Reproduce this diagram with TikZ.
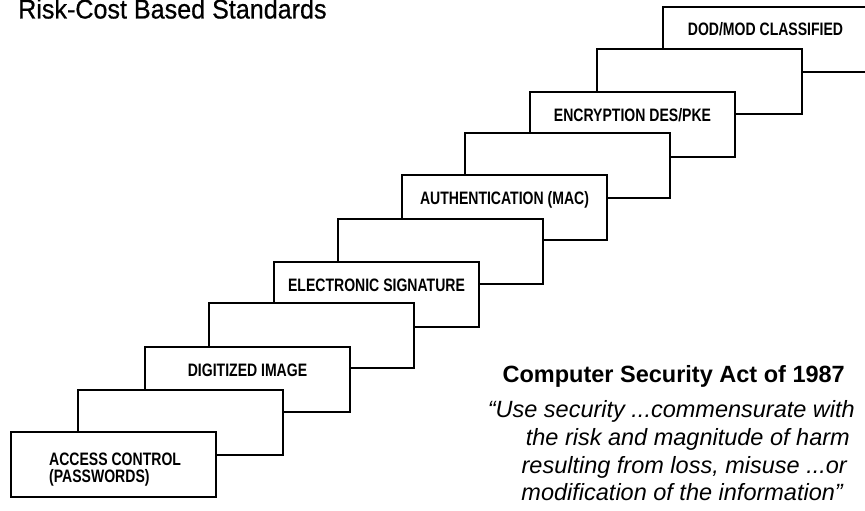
\documentclass[tikz,border=0pt]{standalone}
\usepackage{fontspec}
\setmainfont{Liberation Sans}
\newfontfamily\lblfont[FakeStretch=0.78]{Liberation Sans}
\newfontfamily\ttlfont[FakeStretch=0.93,FakeBold=0.6]{Liberation Sans}
\usetikzlibrary{calc}
\begin{document}
\begin{tikzpicture}[x=1pt,y=-1pt,
  stepbox/.style={draw=black, fill=white, line width=1.8pt, minimum width=205pt, minimum height=65pt, inner sep=0pt, outer sep=0pt, anchor=north west},
  lbl/.style={font=\lblfont\bfseries\fontsize{18}{20}\selectfont, inner sep=0pt, anchor=base},
  quoteline/.style={font=\itshape\fontsize{23.5}{26}\selectfont, inner sep=0pt, anchor=base east}]
\useasboundingbox (0,0) rectangle (865,511);
\clip (0,0) rectangle (865,511);
% title
\node[anchor=base west, inner sep=0pt, font=\ttlfont\fontsize{27}{30}\selectfont] (title) at (18,18.5) {Risk-Cost Based Standards};
% staircase, back to front
\node[stepbox] (b10) at (663,7) {};
\node[lbl] (l10) at ($(b10.north)+(0,28.5)$) {DOD/MOD CLASSIFIED};
\node[stepbox] (b9) at (597,49) {};
\node[stepbox] (b8) at (530,92) {};
\node[lbl] (l8) at ($(b8.north)+(0,29.5)$) {ENCRYPTION DES/PKE};
\node[stepbox] (b7) at (465,133) {};
\node[stepbox] (b6) at (402,175) {};
\node[lbl] (l6) at ($(b6.north)+(0,29.5)$) {AUTHENTICATION (MAC)};
\node[stepbox] (b5) at (338,219) {};
\node[stepbox] (b4) at (274,262) {};
\node[lbl] (l4) at ($(b4.north)+(0,29.5)$) {ELECTRONIC SIGNATURE};
\node[stepbox] (b3) at (209,303) {};
\node[stepbox] (b2) at (145,347) {};
\node[lbl] (l2) at ($(b2.north)+(0,29.5)$) {DIGITIZED IMAGE};
\node[stepbox] (b1) at (78,390) {};
\node[stepbox] (b0) at (11,432) {};
\node[lbl, anchor=base west] (l0a) at (49,465) {ACCESS CONTROL};
\node[lbl, anchor=base west] (l0b) at (49,482) {(PASSWORDS)};
% act
\node[anchor=base east, inner sep=0pt, font=\bfseries\fontsize{23.5}{26}\selectfont] (act) at (845,382) {Computer Security Act of 1987};
\node[quoteline] (q1) at (855,417) {``Use security ...commensurate with};
\node[quoteline] (q2) at (850,445) {the risk and magnitude of harm};
\node[quoteline] (q3) at (847,473) {resulting from loss, misuse ...or};
\node[quoteline] (q4) at (843,500) {modification of the information''};
\end{tikzpicture}
\end{document}
